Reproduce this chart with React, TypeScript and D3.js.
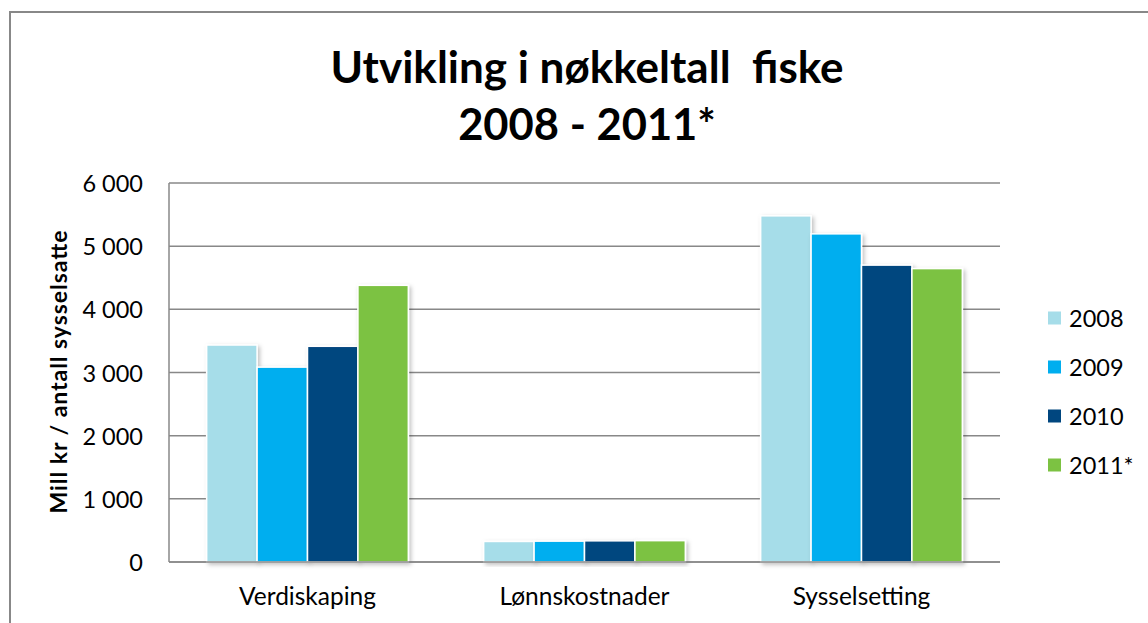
import React from "react";
import * as d3 from "d3";

const categories = ["Verdiskaping", "Lønnskostnader", "Sysselsetting"];
const seriesNames = ["2008", "2009", "2010", "2011*"];
const values2008 = [3435, 325, 5480];
const values2009 = [3085, 330, 5195];
const values2010 = [3415, 335, 4700];
const values2011 = [4380, 338, 4645];
const seriesValues = [values2008, values2009, values2010, values2011];
const colors = ["#a6dde9", "#00aeef", "#00467f", "#7cc242"];
const yTicks = [0, 1000, 2000, 3000, 4000, 5000, 6000];
const titleLines = ["Utvikling i nøkkeltall  fiske", "2008 - 2011*"];
const yAxisTitle = "Mill kr / antall sysselsatte";

const W = 1148;
const H = 623;
const plot = { left: 169, right: 1000, top: 183, bottom: 562 };
const FONT = "Lato, 'Open Sans', sans-serif";

export default function App() {
  const y = d3.scaleLinear().domain([0, 6000]).range([plot.bottom, plot.top]);
  const x0 = d3
    .scaleBand<string>()
    .domain(categories)
    .range([plot.left, plot.right])
    .paddingInner(0.272)
    .paddingOuter(0.136);
  const x1 = d3
    .scaleBand<string>()
    .domain(seriesNames)
    .range([0, x0.bandwidth()]);
  const fmt = (v: number) => d3.format(",")(v).replace(/,/g, " ");

  return (
    <svg
      width={W}
      height={H}
      style={{ position: "absolute", left: 0, top: 0, background: "#fff" }}
      fontFamily={FONT}
    >
      <defs>
        <filter id="shadow" x="-20%" y="-20%" width="140%" height="140%">
          <feDropShadow dx="2" dy="2" stdDeviation="2" floodColor="#000" floodOpacity="0.25" />
        </filter>
      </defs>
      <rect x={0} y={0} width={W} height={H} fill="#fff" />
      {/* outer border */}
      <path d={`M10,${H + 5} L10,12 L${W + 5},12`} fill="none" stroke="#888" strokeWidth={2} />

      {/* title */}
      {titleLines.map((t, i) => (
        <text
          key={i}
          x={587}
          y={83 + i * 57}
          textAnchor="middle"
          fontWeight="bold"
          fontSize={i === 0 ? 44 : 43.5}
          fill="#000"
          style={{ whiteSpace: "pre" }}
        >
          {t}
        </text>
      ))}

      {/* gridlines */}
      {yTicks.map((t) => (
        <line
          key={t}
          x1={plot.left}
          x2={plot.right}
          y1={y(t)}
          y2={y(t)}
          stroke="#888"
          strokeWidth={1.5}
        />
      ))}
      <line x1={plot.left} x2={plot.left} y1={plot.top} y2={plot.bottom} stroke="#888" strokeWidth={1.5} />

      {/* y tick labels */}
      {yTicks.map((t) => (
        <text
          key={"l" + t}
          x={143}
          y={y(t)}
          textAnchor="end"
          dominantBaseline="central"
          fontSize={23.5}
          fill="#000"
        >
          {fmt(t)}
        </text>
      ))}

      {/* y axis title */}
      <text
        transform={`translate(67,${372}) rotate(-90)`}
        textAnchor="middle"
        fontWeight="bold"
        fontSize={23}
        textLength={283}
        lengthAdjust="spacing"
        fill="#000"
      >
        {yAxisTitle}
      </text>

      {/* bars */}
      {categories.map((c, ci) => (
        <g key={c} transform={`translate(${x0(c)},0)`}>
          {seriesNames.map((s, si) => {
            const v = seriesValues[si][ci];
            return (
              <rect
                key={s}
                x={x1(s)}
                y={y(v)}
                width={x1.bandwidth()}
                height={plot.bottom - y(v)}
                fill={colors[si]}
                stroke="#fff"
                strokeWidth={1.5}
                filter="url(#shadow)"
              />
            );
          })}
        </g>
      ))}
      <line x1={plot.left} x2={plot.right} y1={plot.bottom} y2={plot.bottom} stroke="#888" strokeWidth={1.5} />

      {/* category labels */}
      {categories.map((c) => (
        <text
          key={"c" + c}
          x={(x0(c) as number) + x0.bandwidth() / 2}
          y={605}
          textAnchor="middle"
          fontSize={24.5}
          fill="#000"
        >
          {c}
        </text>
      ))}

      {/* legend */}
      {seriesNames.map((s, i) => (
        <g key={"lg" + s} transform={`translate(1048,${318 + i * 49})`}>
          <rect x={0} y={-6.5} width={13} height={13} fill={colors[i]} />
          <text x={21} y={0} dominantBaseline="central" fontSize={23.5} fill="#000">
            {s}
          </text>
        </g>
      ))}
    </svg>
  );
}
